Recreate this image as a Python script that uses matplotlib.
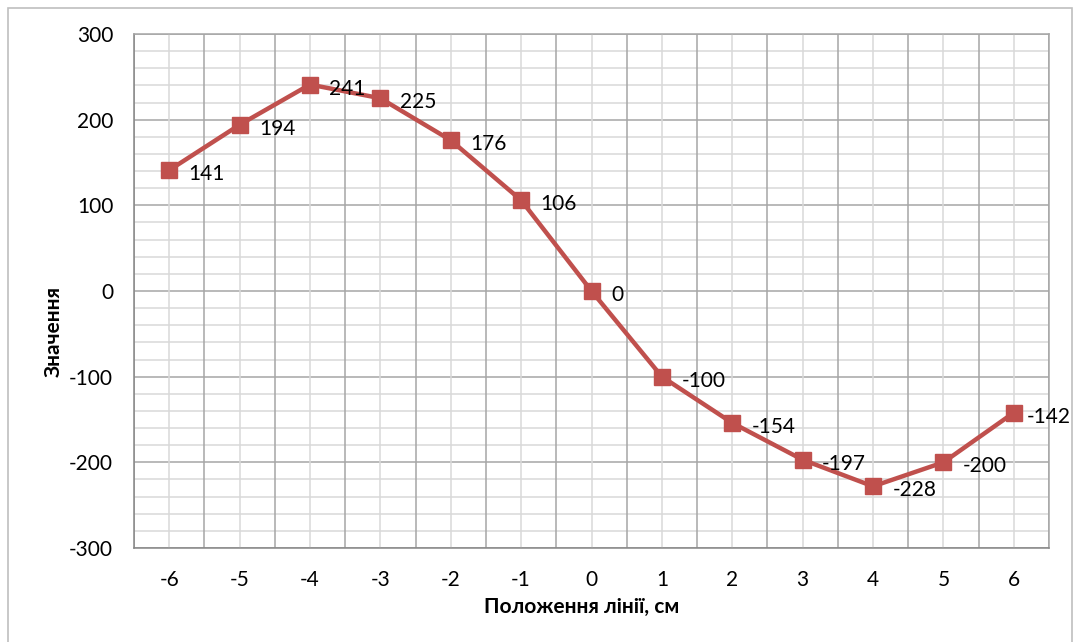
import numpy as np
import matplotlib.pyplot as plt
from matplotlib.patches import Rectangle

# дані
pozycii = [-6, -5, -4, -3, -2, -1, 0, 1, 2, 3, 4, 5, 6]
znachennia = [141, 194, 241, 225, 176, 106, 0, -100, -154, -197, -228, -200, -142]

plt.rcParams['font.family'] = ['Lato', 'DejaVu Sans']
plt.rcParams['axes.unicode_minus'] = False

fig = plt.figure(figsize=(10.76, 6.42), dpi=100)
ax = fig.add_axes([134 / 1076, 1 - 548 / 642, (1049 - 134) / 1076, (548 - 34) / 642])

# рамка навколо діаграми
fig.patches.append(Rectangle((8 / 1076, -0.01), (1072 - 8) / 1076, 1 - 8 / 642 + 0.01,
                             transform=fig.transFigure, fill=False,
                             edgecolor='#bfbfbf', linewidth=1.2))

x = np.arange(len(pozycii))
ax.plot(x, znachennia, color='#c0504d', linewidth=3.2, marker='s',
        markersize=12, markeredgecolor='#c0504d', zorder=3)

for i, (xi, v) in enumerate(zip(x, znachennia)):
    dx = 14 if i < len(x) - 1 else 9  # останній підпис притиснутий до краю
    ax.annotate(str(v), (xi, v), xytext=(dx, -3), textcoords='offset points',
                ha='left', va='center', fontsize=15, color='black', zorder=4)

ax.set_xlim(-0.5, len(pozycii) - 0.5)
ax.set_ylim(-300, 300)
ax.set_yticks(np.arange(-300, 301, 100))
ax.set_xticks(x)
ax.set_xticklabels([str(p) for p in pozycii])

# сітка: основні по сотнях і межах категорій, допоміжні між ними
ax.grid(False)
for yv in np.arange(-300, 301, 20):
    major = yv % 100 == 0
    ax.axhline(yv, color='#a6a6a6' if major else '#d9d9d9', linewidth=1.1, zorder=1)
for xb in np.arange(-0.5, len(pozycii), 1):
    ax.axvline(xb, color='#a6a6a6', linewidth=1.1, zorder=1)
for xc in x:
    ax.axvline(xc, color='#d9d9d9', linewidth=1.1, zorder=1)

ax.tick_params(which='both', length=0)
ax.tick_params(axis='y', labelsize=15, pad=15)
ax.tick_params(axis='x', labelsize=15, pad=16)
for s in ax.spines.values():
    s.set_color('#a6a6a6')
    s.set_linewidth(1.1)
ax.spines['left'].set_color('#868686')
ax.spines['bottom'].set_color('#868686')

fig.text(582 / 1076, 1 - 607 / 642, 'Положення лінії, см', fontsize=15,
         fontweight='bold', ha='center', va='center')
fig.text(54 / 1076, 1 - 332 / 642, 'Значення', fontsize=15, fontweight='bold',
         rotation=90, ha='center', va='center')

fig.savefig('out.png', dpi=100)
